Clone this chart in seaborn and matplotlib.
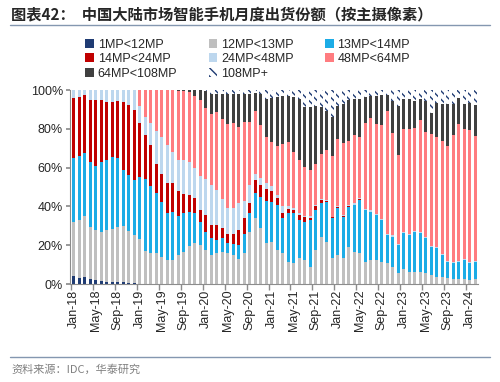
import seaborn as sns
import matplotlib.pyplot as plt
from matplotlib.patches import Patch
from matplotlib.lines import Line2D
import pandas as pd
import numpy as np

# months Jan-18 .. Feb-24
months = pd.date_range('2018-01-01', periods=74, freq='MS').strftime('%b-%y').tolist()
tick_labels = ['Jan-18', 'May-18', 'Sep-18', 'Jan-19', 'May-19', 'Sep-19', 'Jan-20',
               'May-20', 'Sep-20', 'Jan-21', 'May-21', 'Sep-21', 'Jan-22', 'May-22',
               'Sep-22', 'Jan-23', 'May-23', 'Sep-23', 'Jan-24']

# share (%) of each resolution band
mp_1_12 = [4, 3, 3.5, 2.5, 2, 1.5, 1, 1, 1, 1, 0.5, 0.5] + [0] * 62

mp_12_13 = [28, 30, 31.5, 27, 26, 25.5, 27, 27.5, 28.5, 29, 27, 25,
            23, 17, 16, 16, 14, 12.5, 12.5, 15, 16.5, 19.5, 21, 20, 17.5,
            15, 15.8, 16.7, 15.8, 15, 13, 15.8, 27, 33.8, 28.7, 21, 21.8, 17.5,
            15.8, 11.5, 10.7, 13.2, 12.4, 9, 17.5, 24.4, 21.8, 13.2, 15,
            13.2, 19.2, 16.7, 15.8, 11.5, 12.4, 12.4, 11.5, 10.7, 9, 5.5, 8, 6.4,
            6.4, 6.4, 5.5, 4.6, 3.8, 3.8, 2.9, 2.4, 2.4, 2.4, 2, 2.4]

mp_13_14 = [33, 33, 32.5, 33.5, 33, 36, 36, 37, 35.5, 29, 28.5, 28,
            32, 37, 34.5, 31, 28.5, 24, 24.5, 20, 20, 17.5, 15.5, 12, 9.5,
            8.5, 6.9, 6.8, 5.2, 5.4, 7, 10.2, 9.4, 12.9, 16.3, 22, 20.6, 23.2,
            18.2, 24.9, 25.7, 19.8, 19.6, 24, 20.5, 17.2, 20.7, 20.8, 24.2,
            21.5, 20.7, 24, 27.5, 26.5, 24.9, 23.2, 21.5, 14.6, 15.4, 14.6, 18.1, 18.9,
            20.6, 19.7, 18, 14.6, 14.6, 11.2, 8.6, 8.3, 9.1, 10, 8.7, 9.1]

mp_14_24 = [31, 30.5, 30, 32, 34, 32, 30, 28.5, 29.5, 35, 36.5, 36.5,
            28, 23, 21, 15, 14.5, 15.5, 15, 13, 10, 9, 8, 6, 8.5,
            7, 7.7, 5.2, 5, 5.6, 7.8, 8, 5.2, 6.9, 6, 6, 5.6, 3.8,
            2.5, 2.1, 1.6, 2.5, 2.5, 1.3, 2, 1.6, 0.5, 0.4, 0.4,
            0.5, 0.3, 0.3, 0.3] + [0] * 21

mp_24_48 = [4, 3.5, 2.5, 5, 5, 5, 6, 6, 5.5, 6, 7.5, 10,
            9, 9, 11.5, 17, 19, 19.5, 16, 16, 17.5, 17, 15.5, 17.5, 18.5,
            20.5, 18.1, 15.3, 13, 13, 13.8, 9, 9.4, 3.4, 3.5, 3, 2.5, 1.5,
            3.5, 1.5, 1, 0.9, 0.7, 0.7, 0.7, 0.8, 0.5, 0.4, 0.4,
            0.5, 0.6, 0.6, 0.6, 0.7, 0.7, 0.7, 0.7, 0.7, 0.7, 0.6, 0.6, 0.6,
            0.6, 0.6, 0.6, 0.5, 0.5, 0.5, 0.5, 0.5, 0.5, 0.5, 0.5, 0.5]

mp_48_64 = [0] * 12 + [
            8, 14, 17, 21, 24, 28.5, 32, 35.8, 35.5, 36, 37, 39.5, 37,
            36.5, 40, 41, 43.5, 44, 39.4, 40.5, 32.5, 32, 27.5, 24, 22.5, 25,
            32, 33, 29, 27.6, 25.3, 24, 21.3, 23, 25.5, 31.2, 35,
            36.8, 33.2, 35.2, 31.8, 44.1, 47.5, 46.2, 48.3, 63, 52.9, 45.8, 53.3, 54.1,
            52.9, 57.8, 54.4, 57.8, 57.1, 58.5, 59, 65.8, 70.5, 67.1, 68.3, 64.4]

mp_64_108 = [0] * 19 + [
             0.2, 0.5, 1, 3, 5, 8.5,
             10.5, 9.5, 13, 15.5, 15, 17, 14.5, 14.5, 9.5, 16, 19.5, 23, 25.5,
             25, 24, 28.5, 31.5, 31, 32.5, 30, 24.5, 20.5, 20, 17,
             20.5, 21, 18.7, 19.5, 13.7, 11.5, 14.5, 15.5, 8.5, 16.3, 25.3, 15.2, 15.2,
             13.8, 10.7, 15.8, 10.8, 17.5, 18.6, 21.6, 15.6, 13.5, 12.6, 14, 15.8]

mp_108_plus = [0] * 24 + [
               0.5,
               2, 2, 2, 2, 2, 2, 2, 2, 1.5, 2, 4.5, 4, 3.5,
               3, 3, 3.5, 4.5, 8.5, 8.5, 8, 8.5, 10.5, 14, 8,
               7, 5, 4.5, 4.5, 3.5, 3, 3, 2.5, 2.5, 5.7, 8.2, 4.8, 4.8,
               5.7, 4.8, 5.7, 11.7, 6.5, 7.4, 7.4, 7.4, 4, 7.4, 6.5, 8.2]

series_names = ['1MP<12MP', '12MP<13MP', '13MP<14MP', '14MP<24MP',
                '24MP<48MP', '48MP<64MP', '64MP<108MP', '108MP+']
series = [mp_1_12, mp_12_13, mp_13_14, mp_14_24, mp_24_48, mp_48_64, mp_64_108, mp_108_plus]
navy = '#1F3B73'
colors = [navy, '#BFBFBF', '#1CACE6', '#C00000', '#BDD7EE', '#FF7C80', '#404040', 'white']

sns.set_theme(style='white')
plt.rcParams['font.family'] = ['Liberation Sans', 'Noto Sans CJK SC']
plt.rcParams['hatch.linewidth'] = 1.0

fig = plt.figure(figsize=(5, 3.82), dpi=100)
ax = fig.add_axes([0.14, 0.2565, 0.816, 0.5075])

bottom = np.zeros(len(months))
for name, vals, col in zip(series_names, series, colors):
    extra = {}
    if name == '108MP+':
        extra = dict(hatch='\\\\\\\\', edgecolor=navy)
    sns.barplot(x=months, y=vals, order=months, color=col, saturation=1, width=0.6,
                errorbar=None, bottom=bottom, linewidth=0, ax=ax, **extra)
    bottom = bottom + np.array(vals)

ax.set_xlim(-0.7, 73.5)
ax.set_ylim(0, 100)
ax.set_yticks(range(0, 101, 20))
ax.set_yticklabels([f'{v}%' for v in range(0, 101, 20)])
ax.set_xticks(range(0, 74, 4))
ax.set_xticklabels(tick_labels, rotation=90)
ax.set_xticks(np.arange(-0.6, 74, 4), minor=True)
ax.tick_params(axis='x', which='major', length=0, labelsize=9, pad=4)
ax.tick_params(axis='x', which='minor', length=4, color='#8C8C8C', bottom=True)
ax.tick_params(axis='y', length=3, color='#8C8C8C', labelsize=9, left=True, pad=2)
ax.set_xlabel('')
ax.set_ylabel('')
sns.despine(ax=ax)
for s in ['left', 'bottom']:
    ax.spines[s].set_color('#8C8C8C')
    ax.spines[s].set_linewidth(0.8)

# legend, filled row by row like the original
handles = []
for name, col in zip(series_names, colors):
    if name == '108MP+':
        handles.append(Patch(facecolor='white', edgecolor=navy, hatch='\\\\\\\\', linewidth=0))
    else:
        handles.append(Patch(facecolor=col, linewidth=0))
order = [0, 3, 6, 1, 4, 7, 2, 5]
fig.legend([handles[i] for i in order], [series_names[i] for i in order],
           loc='upper left', bbox_to_anchor=(0.158, 0.915), ncol=3, frameon=False,
           fontsize=9, handlelength=0.7, handleheight=0.7, handletextpad=0.3,
           columnspacing=2.5, labelspacing=0.2, borderpad=0)

fig.text(0.022, 0.962, '图表42：  中国大陆市场智能手机月度出货份额（按主摄像素）',
         fontsize=11, weight='bold', family=['Noto Sans CJK SC'], va='center')
fig.add_artist(Line2D([0.02, 0.98], [0.934, 0.934], color='#8497B0', lw=1))
fig.add_artist(Line2D([0.02, 0.98], [0.066, 0.066], color='#8497B0', lw=1))
fig.text(0.022, 0.032, '资料来源：IDC，华泰研究', fontsize=8, color='#808080',
         family=['Noto Sans CJK SC'], va='center')

fig.savefig('out.png', dpi=100)
